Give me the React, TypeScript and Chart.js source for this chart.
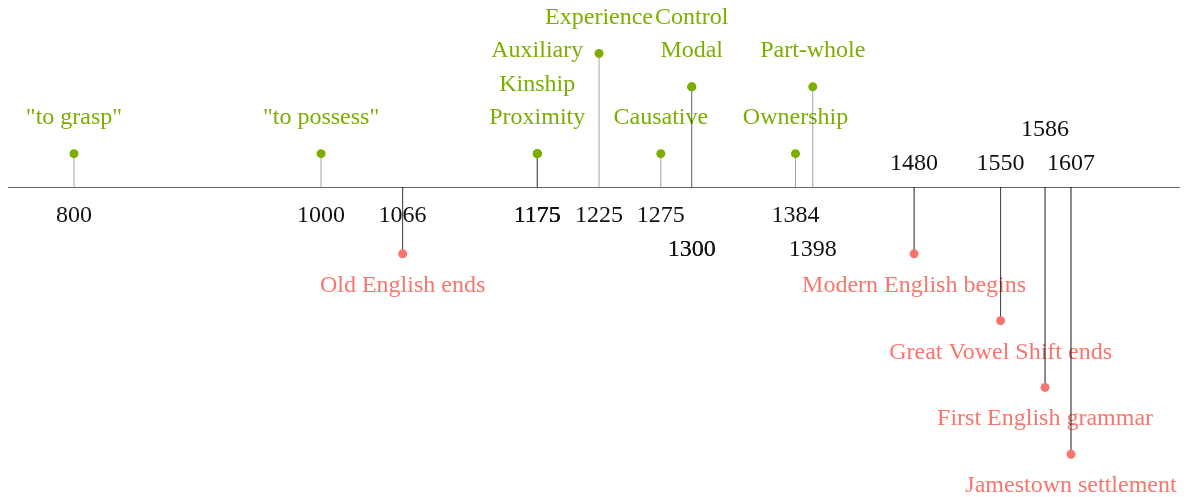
import React, { useEffect, useRef } from "react";
import { Chart, registerables } from "chart.js";
Chart.register(...registerables);

// Events shown above the axis (green)
const topYears = [800, 1000, 1175, 1175, 1175, 1225, 1275, 1300, 1300, 1384, 1398];
const topLabels = ['"to grasp"', '"to possess"', "Proximity", "Kinship", "Auxiliary", "Experience", "Causative", "Modal", "Control", "Ownership", "Part-whole"];
const topStemLevels = [1, 1, 1, 1, 1, 4, 1, 3, 3, 1, 3];
const topLabelLevels = [1, 1, 1, 2, 3, 4, 1, 3, 4, 1, 3];
const topYearRows = [-1, -1, -1, -1, -1, -1, -1, -2, -2, -1, -2];

// Events shown below the axis (red)
const bottomYears = [1066, 1480, 1550, 1586, 1607];
const bottomLabels = ["Old English ends", "Modern English begins", "Great Vowel Shift ends", "First English grammar", "Jamestown settlement"];
const bottomLevels = [-2, -2, -4, -6, -8];
const bottomYearRows = [-1, 1, 1, 2, 1];

const GREEN = "#7CAE00";
const RED = "#F8766D";
const FONT = '24px "Liberation Serif", "DejaVu Serif", serif';

export default function App() {
  const ref = useRef<HTMLCanvasElement>(null);
  useEffect(() => {
    document.documentElement.style.overflow = "hidden";
    document.body.style.overflow = "hidden";
    const stems: any[] = [];
    topYears.forEach((yr, i) => {
      stems.push({ x: yr, y: 0 }, { x: yr, y: topStemLevels[i] }, { x: yr, y: null });
    });
    bottomYears.forEach((yr, i) => {
      stems.push({ x: yr, y: 0 }, { x: yr, y: bottomLevels[i] }, { x: yr, y: null });
    });

    const textPlugin = {
      id: "timelineText",
      beforeDatasetsDraw(chart: any) {
        const { ctx, chartArea, scales } = chart;
        const xs = scales.x;
        const ys = scales.y;
        const axisY = ys.getPixelForValue(0);
        ctx.save();
        // axis line
        ctx.strokeStyle = "#666";
        ctx.lineWidth = 1;
        ctx.beginPath();
        ctx.moveTo(chartArea.left, Math.round(axisY) + 0.5);
        ctx.lineTo(chartArea.right, Math.round(axisY) + 0.5);
        ctx.stroke();

        ctx.font = FONT;
        ctx.textAlign = "center";
        ctx.textBaseline = "alphabetic";
        const yearY = (row: number) =>
          row < 0 ? axisY + 35 + (-row - 1) * 34 : axisY - 17 - (row - 1) * 34;
        // top labels
        ctx.fillStyle = GREEN;
        topYears.forEach((yr, i) => {
          ctx.fillText(topLabels[i], xs.getPixelForValue(yr), ys.getPixelForValue(topLabelLevels[i]) - 29.6);
        });
        ctx.fillStyle = RED;
        bottomYears.forEach((yr, i) => {
          ctx.fillText(bottomLabels[i], xs.getPixelForValue(yr), ys.getPixelForValue(bottomLevels[i]) + 38);
        });
        ctx.fillStyle = "#111";
        topYears.forEach((yr, i) => {
          ctx.fillText(String(yr), xs.getPixelForValue(yr), yearY(topYearRows[i]));
        });
        bottomYears.forEach((yr, i) => {
          ctx.fillText(String(yr), xs.getPixelForValue(yr), yearY(bottomYearRows[i]));
        });
        ctx.restore();
      },
    };

    const chart = new Chart(ref.current!, {
      type: "scatter",
      data: {
        datasets: [
          {
            data: topYears.map((yr, i) => ({ x: yr, y: topStemLevels[i] })),
            backgroundColor: GREEN,
            pointRadius: 4.5,
            pointBorderWidth: 0,
            order: 1,
          },
          {
            data: bottomYears.map((yr, i) => ({ x: yr, y: bottomLevels[i] })),
            backgroundColor: RED,
            pointRadius: 4.5,
            pointBorderWidth: 0,
            order: 1,
          },
          {
            data: stems,
            showLine: true,
            spanGaps: false,
            borderColor: "rgba(0,0,0,0.36)",
            borderWidth: 1,
            pointRadius: 0,
            order: 2,
          } as any,
        ],
      },
      options: {
        animation: false,
        responsive: true,
        maintainAspectRatio: false,
        layout: { padding: 0, autoPadding: false },
        plugins: { legend: { display: false }, tooltip: { enabled: false } },
        scales: {
          x: { type: "linear", display: false, min: 746.6, max: 1701.7 },
          y: { type: "linear", display: false, min: -9.28, max: 5.36 },
        },
      },
      plugins: [textPlugin],
    });
    return () => chart.destroy();
  }, []);
  return (
    <div style={{ width: 1180, height: 489 }}>
      <canvas ref={ref} />
    </div>
  );
}
